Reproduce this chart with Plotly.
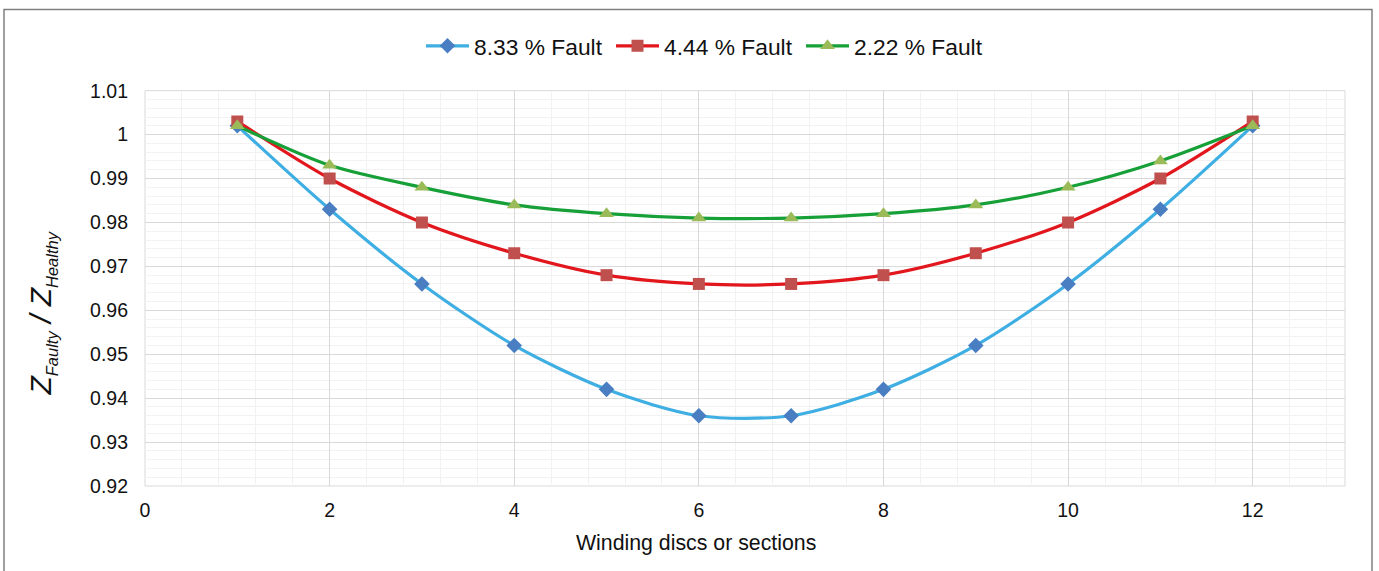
import plotly.graph_objects as go

discs = list(range(1, 13))
fault_833 = [1.002, 0.983, 0.966, 0.952, 0.942, 0.936, 0.936, 0.942, 0.952, 0.966, 0.983, 1.002]
fault_444 = [1.003, 0.990, 0.980, 0.973, 0.968, 0.966, 0.966, 0.968, 0.973, 0.980, 0.990, 1.003]
fault_222 = [1.002, 0.993, 0.988, 0.984, 0.982, 0.981, 0.981, 0.982, 0.984, 0.988, 0.994, 1.002]
names = ["8.33 % Fault", "4.44 % Fault", "2.22 % Fault"]
y_ticks = [0.92, 0.93, 0.94, 0.95, 0.96, 0.97, 0.98, 0.99, 1.0, 1.01]
y_tick_labels = ["0.92", "0.93", "0.94", "0.95", "0.96", "0.97", "0.98", "0.99", "1", "1.01"]

fig = go.Figure()
fig.add_trace(go.Scatter(x=discs, y=fault_833, name=names[0], mode="lines+markers",
                         line=dict(color="#3FAEE2", width=3.2, shape="spline", smoothing=0.8),
                         marker=dict(symbol="diamond", size=12, color="#4A7EC2")))
fig.add_trace(go.Scatter(x=discs, y=fault_444, name=names[1], mode="lines+markers",
                         line=dict(color="#E2171D", width=3.2, shape="spline", smoothing=0.8),
                         marker=dict(symbol="square", size=12, color="#C0504D")))
fig.add_trace(go.Scatter(x=discs, y=fault_222, name=names[2], mode="lines+markers",
                         line=dict(color="#17A038", width=3.2, shape="spline", smoothing=0.8),
                         marker=dict(symbol="triangle-up", size=13, color="#9BBB59")))

W, H = 1379, 571
ml, mr, mt, mb = 145, 34, 87, 85
pw, ph = W - ml - mr, H - mt - mb

def px_x(p):
    return (p - ml) / pw

def px_y(p):
    return (H - mb - p) / ph

fig.update_layout(
    width=W, height=H,
    margin=dict(l=ml, r=mr, t=mt, b=mb),
    paper_bgcolor="white", plot_bgcolor="white",
    font=dict(family="Liberation Sans, Arial, sans-serif", color="#111111", size=19),
    legend=dict(orientation="h", xref="container", yref="container",
                x=706 / W, xanchor="center", y=1 - 46 / H, yanchor="middle",
                font=dict(size=22.8), traceorder="normal",
                itemwidth=43, entrywidth=132, entrywidthmode="pixels"),
    xaxis=dict(range=[0, 13], dtick=2, tick0=0, showgrid=True, gridcolor="#D9D9D9", gridwidth=1,
               minor=dict(dtick=0.4, showgrid=True, gridcolor="#F2F2F2", gridwidth=1),
               zeroline=False, showline=False, ticks="", ticklabelstandoff=10,
               tickfont=dict(size=19.5)),
    yaxis=dict(range=[0.92, 1.01], showgrid=True, gridcolor="#D9D9D9", gridwidth=1,
               minor=dict(dtick=0.002, tick0=0.92, showgrid=True, gridcolor="#F2F2F2", gridwidth=1),
               zeroline=False, showline=False, ticks="", ticklabelstandoff=16,
               tickvals=y_ticks, ticktext=y_tick_labels, tickfont=dict(size=19.5)),
    showlegend=True,
)

fig.add_annotation(text="Winding discs or sections", xref="paper", yref="paper",
                   x=px_x(696), y=px_y(544), xanchor="center", yanchor="middle",
                   showarrow=False, font=dict(size=21.3))
fig.add_annotation(
    text=("<i>Z<sub><span style='font-size:16.5px'>Faulty</span></sub> / "
          "Z<sub><span style='font-size:16.5px'>Healthy</span></sub></i>"),
    xref="paper", yref="paper",
    x=px_x(42), y=px_y(312), xanchor="center", yanchor="middle", textangle=-90,
    showarrow=False, font=dict(size=30))

fig.add_shape(type="rect", xref="paper", yref="paper", x0=0, y0=0, x1=1, y1=1,
              line=dict(color="#D9D9D9", width=1), layer="below")
fig.add_shape(type="rect", xref="paper", yref="paper",
              x0=px_x(4), x1=px_x(1372), y0=px_y(H + 5), y1=px_y(5),
              line=dict(color="#808080", width=1.5))

fig.write_html("out.html", config={"displayModeBar": False},
               post_script="document.body.style.margin='0px';")
